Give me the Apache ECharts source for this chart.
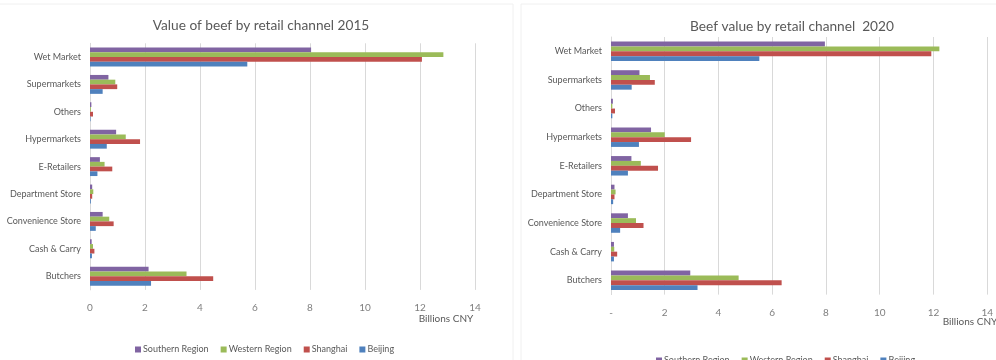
<!DOCTYPE html>
<html>
<head>
<meta charset="utf-8">
<script src="https://cdn.jsdelivr.net/npm/echarts@6/dist/echarts.min.js"></script>
<style>
  html, body { margin: 0; padding: 0; background: #fff; }
  #chart { width: 996px; height: 360px; }
</style>
</head>
<body>
<div id="chart"></div>
<script>
// Retail channels, top to bottom
const channels = ['Wet Market', 'Supermarkets', 'Others', 'Hypermarkets', 'E-Retailers',
  'Department Store', 'Convenience Store', 'Cash & Carry', 'Butchers'];
const regions = ['Southern Region', 'Western Region', 'Shanghai', 'Beijing'];
const regionColors = ['#8064A2', '#9BBB59', '#C0504D', '#4F81BD'];

// 2015 values, billions CNY
const southern2015 = [8.04, 0.67, 0.05, 0.95, 0.36, 0.08, 0.46, 0.06, 2.13];
const western2015  = [12.85, 0.92, 0.03, 1.30, 0.53, 0.12, 0.70, 0.11, 3.51];
const shanghai2015 = [12.07, 0.99, 0.11, 1.82, 0.81, 0.08, 0.86, 0.16, 4.48];
const beijing2015  = [5.72, 0.46, 0.02, 0.61, 0.27, 0.03, 0.21, 0.07, 2.22];

// 2020 values, billions CNY
const southern2020 = [7.96, 1.06, 0.07, 1.49, 0.76, 0.13, 0.63, 0.11, 2.95];
const western2020  = [12.22, 1.45, 0.05, 2.00, 1.11, 0.17, 0.93, 0.12, 4.75];
const shanghai2020 = [11.92, 1.63, 0.15, 2.98, 1.75, 0.13, 1.21, 0.23, 6.35];
const beijing2020  = [5.52, 0.77, 0.05, 1.04, 0.63, 0.08, 0.34, 0.11, 3.22];

const data2015 = [southern2015, western2015, shanghai2015, beijing2015];
const data2020 = [southern2020, western2020, shanghai2020, beijing2020];

const FONT = 'Lato, "Open Sans", sans-serif';
const TEXT = '#595959';

function valueAxis(gridIndex, zeroDash) {
  return {
    type: 'value', gridIndex, min: 0, max: 14, interval: 2,
    axisLine: { show: false }, axisTick: { show: false },
    splitLine: { lineStyle: { color: '#d9d9d9', width: 1 } },
    axisLabel: {
      color: '#7f7f7f', fontSize: 10, fontFamily: FONT, margin: 13,
      formatter: v => (zeroDash && v === 0) ? '-' : String(v)
    }
  };
}
function categoryAxis(gridIndex) {
  return {
    type: 'category', gridIndex, data: channels, inverse: true,
    axisLine: { lineStyle: { color: '#d9d9d9' } }, axisTick: { show: false },
    axisLabel: { color: TEXT, fontSize: 9, fontFamily: FONT, margin: 9 }
  };
}
function barSeries(sets, axisIndex, gap) {
  return sets.map((vals, i) => ({
    name: regions[i], type: 'bar', data: vals,
    xAxisIndex: axisIndex, yAxisIndex: axisIndex,
    barGap: '0%', barCategoryGap: gap,
    itemStyle: { color: regionColors[i] },
    emphasis: { disabled: true }
  }));
}
function legendAt(left, top) {
  return {
    data: regions, left, top, itemWidth: 6, itemHeight: 6, itemGap: 12,
    icon: 'rect',
    textStyle: { color: TEXT, fontSize: 9, fontFamily: FONT, padding: [0, 0, 0, -3] }
  };
}

const chart = echarts.init(document.getElementById('chart'), null, { renderer: 'canvas' });
chart.setOption({
  animation: false,
  backgroundColor: '#fff',
  textStyle: { fontFamily: FONT },
  title: [
    { text: 'Value of beef by retail channel 2015', left: 256, top: 14, textAlign: 'center',
      textStyle: { color: TEXT, fontSize: 13.7, fontWeight: 'normal', fontFamily: FONT } },
    { text: 'Beef value by retail channel  2020', left: 787, top: 15, textAlign: 'center',
      textStyle: { color: TEXT, fontSize: 13.7, fontWeight: 'normal', fontFamily: FONT } }
  ],
  legend: [legendAt(130, 340), legendAt(651, 351)],
  grid: [
    { left: 90, top: 43.3, width: 385, height: 246.6 },
    { left: 611, top: 37, width: 386.4, height: 257.6 }
  ],
  xAxis: [valueAxis(0, false), valueAxis(1, true)],
  yAxis: [categoryAxis(0), categoryAxis(1)],
  series: [...barSeries(data2015, 0, '31%'), ...barSeries(data2020, 1, '32%')],
  graphic: [
    { type: 'rect', silent: true, shape: { x: -1, y: 4, width: 514, height: 400 },
      style: { fill: 'none', stroke: '#f0f0f0', lineWidth: 1 } },
    { type: 'rect', silent: true, shape: { x: 521, y: 4, width: 500, height: 400 },
      style: { fill: 'none', stroke: '#f0f0f0', lineWidth: 1 } },
    { type: 'text', silent: true, x: 446, y: 319,
      style: { text: 'Billions CNY', fill: TEXT, fontSize: 10, fontFamily: FONT,
        align: 'center', verticalAlign: 'middle' } },
    { type: 'text', silent: true, x: 970, y: 322,
      style: { text: 'Billions CNY', fill: TEXT, fontSize: 10, fontFamily: FONT,
        align: 'center', verticalAlign: 'middle' } }
  ]
});
</script>
</body>
</html>
